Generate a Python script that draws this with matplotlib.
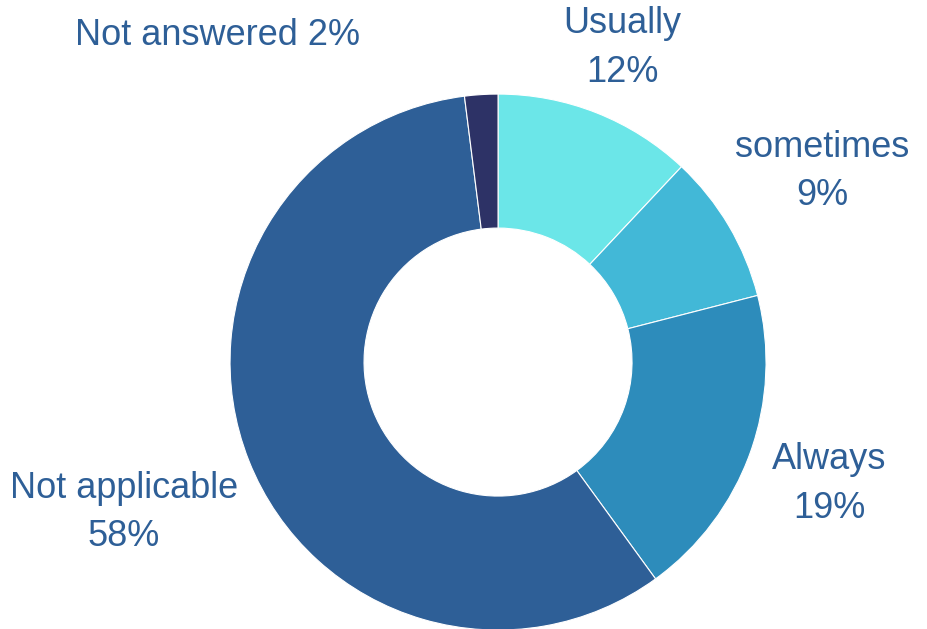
import matplotlib.pyplot as plt

categories = ["Usually", "sometimes", "Always", "Not applicable", "Not answered"]
values = [12, 9, 19, 58, 2]
colors = ["#6be6e8", "#42b8d7", "#2d8cbb", "#2e5f97", "#2d3266"]
label_texts = ["Usually\n12%", "sometimes\n9%", "Always\n19%", "Not applicable\n58%", "Not answered 2%"]

# label centres in data units (pie radius = 1)
label_pos = [(0.463, 1.172), (1.209, 0.712), (1.235, -0.455), (-1.396, -0.562), (-1.045, 1.218)]

plt.rcParams['font.family'] = ['Liberation Sans', 'DejaVu Sans']

fig = plt.figure(figsize=(9.28, 6.29), dpi=100)
ax = fig.add_axes([0, 0, 1, 1])
ax.pie(values, colors=colors, startangle=90, counterclock=False, radius=1,
       wedgeprops=dict(width=0.5, edgecolor="white", linewidth=0.8))
for txt, (x, y) in zip(label_texts, label_pos):
    ax.text(x, y, txt, ha="center", va="center", fontsize=26, color="#2e5f97",
            linespacing=1.5)
ax.set_xlim(-1.858, 1.604)
ax.set_ylim(-0.996, 1.351)
ax.set_aspect("equal")
ax.axis("off")
fig.savefig("out.png", dpi=100)
